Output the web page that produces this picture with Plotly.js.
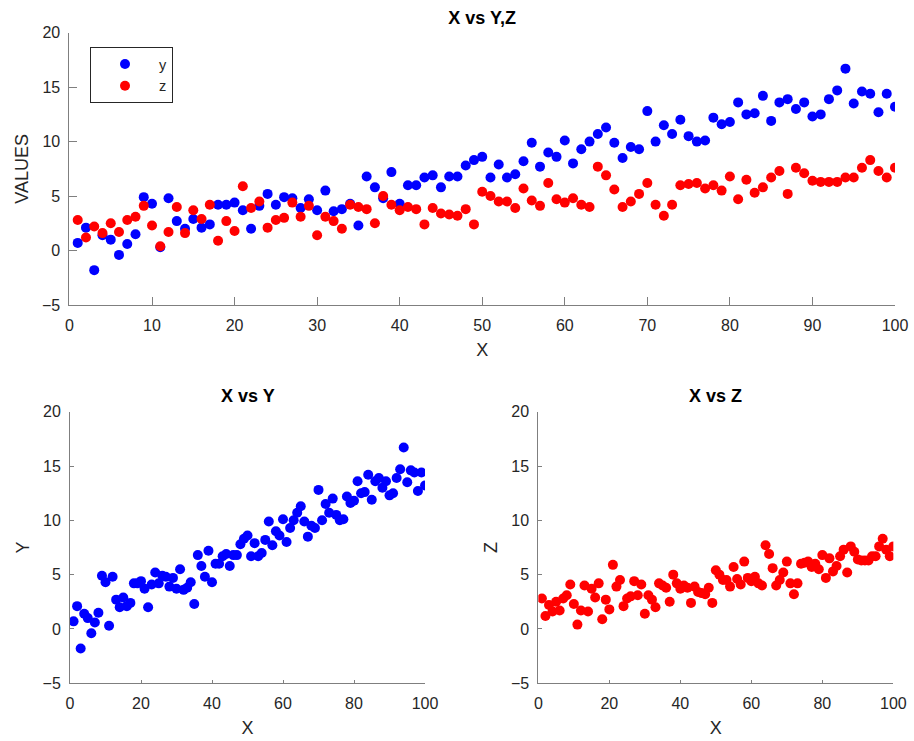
<!DOCTYPE html>
<html>
<head>
<meta charset="utf-8">
<script src="https://cdn.plot.ly/plotly-3.0.1.min.js"></script>
<style>
html, body { margin: 0; padding: 0; background: #fff; }
#chart { width: 914px; height: 741px; }
</style>
</head>
<body>
<div id="chart"></div>
<script>
// Data
const xValues = [1,2,3,4,5,6,7,8,9,10,11,12,13,14,15,16,17,18,19,20,
  21,22,23,24,25,26,27,28,29,30,31,32,33,34,35,36,37,38,39,40,
  41,42,43,44,45,46,47,48,49,50,51,52,53,54,55,56,57,58,59,60,
  61,62,63,64,65,66,67,68,69,70,71,72,73,74,75,76,77,78,79,80,
  81,82,83,84,85,86,87,88,89,90,91,92,93,94,95,96,97,98,99,100];

const yValues = [0.7,2.1,-1.8,1.4,1.0,-0.4,0.6,1.5,4.9,4.3,
  0.3,4.8,2.7,2.0,2.9,2.1,2.4,4.2,4.2,4.4,
  3.7,2.0,4.1,5.2,4.2,4.9,4.8,3.9,4.7,3.7,
  5.5,3.6,3.8,4.3,2.3,6.8,5.8,4.8,7.2,4.3,
  6.0,6.0,6.7,6.9,5.8,6.8,6.8,7.8,8.3,8.6,
  6.7,7.9,6.7,7.0,8.2,9.9,7.7,9.0,8.6,10.1,
  8.0,9.3,10.0,10.7,11.3,9.9,8.5,9.5,9.3,12.8,
  10.0,11.5,10.7,12.0,10.5,10.0,10.1,12.2,11.6,11.8,
  13.6,12.5,12.6,14.2,11.9,13.6,13.9,13.0,13.6,12.3,
  12.5,13.9,14.7,16.7,13.5,14.6,14.4,12.7,14.4,13.2];

const zValues = [2.8,1.2,2.2,1.6,2.5,1.7,2.8,3.1,4.1,2.3,
  0.4,1.7,4.0,1.6,3.7,2.9,4.2,0.9,2.7,1.8,
  5.9,3.9,4.5,2.1,2.8,3.0,4.4,3.1,4.1,1.4,
  3.1,2.7,2.0,4.2,4.0,3.8,2.5,5.0,4.2,3.7,
  4.0,3.8,2.4,3.9,3.4,3.3,3.2,3.8,2.4,5.4,
  5.0,4.5,4.5,3.9,5.7,4.6,4.1,6.2,4.7,4.4,
  4.8,4.2,4.0,7.7,6.9,5.6,4.0,4.5,5.2,6.2,
  4.2,3.2,4.2,6.0,6.1,6.2,5.7,6.0,5.5,6.8,
  4.7,6.5,5.3,5.8,6.7,7.3,5.2,7.6,7.1,6.4,
  6.3,6.3,6.3,6.7,6.7,7.6,8.3,7.3,6.7,7.6];

const seriesNames = ['y', 'z'];
const mainTitle = 'X vs Y,Z';
const subTitles = ['X vs Y', 'X vs Z'];
const xLabel = 'X';
const yLabels = ['VALUES', 'Y', 'Z'];

const BLUE = '#0000ff';
const RED = '#ff0000';
const FONT = 'Liberation Sans, Arial, Helvetica, sans-serif';
const TXT = '#262626';
const LINE = '#7f7f7f';

const traces = [
  { x: xValues, y: yValues, type: 'scatter', mode: 'markers', name: seriesNames[0],
    marker: { color: BLUE, size: 10 }, xaxis: 'x', yaxis: 'y' },
  { x: xValues, y: zValues, type: 'scatter', mode: 'markers', name: seriesNames[1],
    marker: { color: RED, size: 10 }, xaxis: 'x', yaxis: 'y' },
  { x: xValues, y: yValues, type: 'scatter', mode: 'markers', name: seriesNames[0],
    marker: { color: BLUE, size: 10 }, xaxis: 'x2', yaxis: 'y2', showlegend: false },
  { x: xValues, y: zValues, type: 'scatter', mode: 'markers', name: seriesNames[1],
    marker: { color: RED, size: 10 }, xaxis: 'x3', yaxis: 'y3', showlegend: false }
];

function xAxis(domain, anchor, dtick, ticklen, standoff) {
  return {
    domain: domain, anchor: anchor, range: [0, 100], dtick: dtick, tick0: 0,
    showline: true, linecolor: LINE, linewidth: 1, mirror: false,
    ticks: 'inside', ticklen: ticklen, tickcolor: LINE, tickwidth: 1,
    showgrid: false, zeroline: false, ticklabelstandoff: 6,
    tickfont: { family: FONT, size: 16, color: TXT },
    title: { text: xLabel, font: { family: FONT, size: 18, color: TXT }, standoff: standoff }
  };
}
function yAxis(domain, anchor, ticklen, label, standoff) {
  return {
    domain: domain, anchor: anchor, range: [-5, 20], dtick: 5, tick0: -5,
    showline: true, linecolor: LINE, linewidth: 1, mirror: false,
    ticks: 'inside', ticklen: ticklen, tickcolor: LINE, tickwidth: 1,
    showgrid: false, zeroline: false, ticklabelstandoff: 5,
    tickfont: { family: FONT, size: 16, color: TXT },
    title: { text: label, font: { family: FONT, size: 18, color: TXT }, standoff: standoff }
  };
}

const topY = [0.5884, 0.9559];
const botY = [0.0779, 0.4444];

const layout = {
  width: 914, height: 741,
  margin: { l: 0, r: 0, t: 0, b: 0 },
  paper_bgcolor: '#ffffff', plot_bgcolor: '#ffffff',
  font: { family: FONT, color: TXT },
  title: { text: '<b>' + mainTitle + '</b>', font: { family: FONT, size: 18, color: '#000' },
           x: 0.5275, xanchor: 'center', y: 1 - 18 / 741, yanchor: 'middle', xref: 'paper', yref: 'paper' },
  xaxis: xAxis([0.0760, 0.9792], 'y', 10, 8, 10),
  yaxis: yAxis(topY, 'x', 8, yLabels[0], 8),
  xaxis2: xAxis([0.0766, 0.4650], 'y2', 20, 3.5, 9),
  yaxis2: yAxis(botY, 'x2', 3.5, yLabels[1], 8),
  xaxis3: xAxis([0.5890, 0.9774], 'y3', 20, 3.5, 9),
  yaxis3: yAxis(botY, 'x3', 3.5, yLabels[2], 8),
  showlegend: true,
  legend: {
    x: 90 / 914, y: 1 - 47 / 741, xanchor: 'left', yanchor: 'top',
    bordercolor: '#262626', borderwidth: 1, bgcolor: '#ffffff',
    itemwidth: 58, font: { family: FONT, size: 14.5, color: TXT },
    tracegroupgap: 0
  },
  annotations: [
    { text: '<b>' + subTitles[0] + '</b>', xref: 'paper', yref: 'paper',
      x: (0.0766 + 0.4650) / 2, y: 1 - 396 / 741, xanchor: 'center', yanchor: 'middle',
      showarrow: false, font: { family: FONT, size: 18, color: '#000' } },
    { text: '<b>' + subTitles[1] + '</b>', xref: 'paper', yref: 'paper',
      x: (0.5890 + 0.9774) / 2, y: 1 - 396 / 741, xanchor: 'center', yanchor: 'middle',
      showarrow: false, font: { family: FONT, size: 18, color: '#000' } }
  ]
};

Plotly.newPlot('chart', traces, layout, { displayModeBar: false, staticPlot: true });
</script>
</body>
</html>
